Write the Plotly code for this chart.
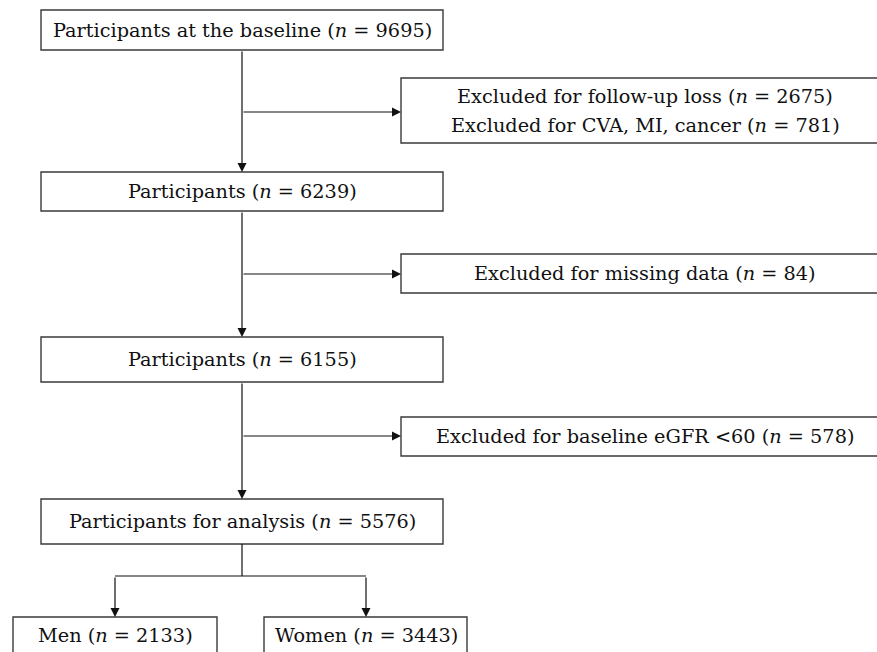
import plotly.graph_objects as go

# ---- data ----
stage_labels = ["Participants at the baseline", "Participants", "Participants", "Participants for analysis"]
stage_n = [9695, 6239, 6155, 5576]
excl_labels = [["Excluded for follow-up loss", "Excluded for CVA, MI, cancer"],
               ["Excluded for missing data"],
               ["Excluded for baseline eGFR <60"]]
excl_n = [[2675, 781], [84], [578]]
group_labels = ["Men", "Women"]
group_n = [2133, 3443]

# ---- layout geometry (page pixels, y downward) ----
W, H = 877, 652
main_x = (41, 443)
main_cx = 242
main_y = [(10, 50), (172, 211), (337, 382), (499, 544)]
excl_x = (401, 900)
excl_y = [(78, 143), (254, 293), (417, 456)]
excl_cx = 645
branch_y = [112, 274, 436]
split_y = 576
group_x = [(13, 217), (264, 467)]
group_cx = [115, 366]
group_y = (617, 690)
group_text_y = 635

FONT = dict(family="DejaVu Serif", size=19.3, color="#111111")
BORDER = dict(color="#3a3a3a", width=1.4)
LINE = dict(color="#111111", width=1.2)


def lab(text, n):
    return f"{text} (<i>n</i> = {n})"


fig = go.Figure()
fig.add_trace(go.Scatter(x=[0, W], y=[0, H], mode="markers", marker=dict(opacity=0),
                         hoverinfo="skip", showlegend=False))

shapes = []
annotations = []


def box(x0, x1, y0, y1):
    shapes.append(dict(type="rect", x0=x0, x1=x1, y0=y0, y1=y1, xref="x", yref="y",
                       line=BORDER, fillcolor="white", layer="above"))


def line(x0, y0, x1, y1):
    shapes.append(dict(type="line", x0=x0, x1=x1, y0=y0, y1=y1, xref="x", yref="y", line=LINE, layer="above"))


def arrow(x0, y0, x1, y1):
    annotations.append(dict(x=x1, y=y1, ax=x0, ay=y0, xref="x", yref="y", axref="x", ayref="y",
                            showarrow=True, arrowhead=2, arrowsize=1.5, arrowwidth=1.2,
                            arrowcolor="#111111", standoff=0, startstandoff=0, text=""))


def text(x, y, s):
    annotations.append(dict(x=x, y=y, xref="x", yref="y", text=s, showarrow=False, font=FONT,
                            xanchor="center", yanchor="middle"))


# main boxes
for (y0, y1), t, n in zip(main_y, stage_labels, stage_n):
    box(main_x[0], main_x[1], y0, y1)
    text(main_cx, (y0 + y1) / 2, lab(t, n))

# vertical arrows between main boxes
for i in range(len(main_y) - 1):
    arrow(main_cx, main_y[i][1], main_cx, main_y[i + 1][0])

# exclusion boxes and branches
for (y0, y1), by, labels, ns in zip(excl_y, branch_y, excl_labels, excl_n):
    box(excl_x[0], excl_x[1], y0, y1)
    arrow(main_cx, by, excl_x[0], by)
    k = len(labels)
    mid = (y0 + y1) / 2
    for j, (t, n) in enumerate(zip(labels, ns)):
        yy = mid + (j - (k - 1) / 2) * 29
        text(excl_cx, yy, lab(t, n))

# split to groups
line(main_cx, main_y[-1][1], main_cx, split_y)
line(group_cx[0], split_y, group_cx[1], split_y)
for (x0, x1), cx, t, n in zip(group_x, group_cx, group_labels, group_n):
    arrow(cx, split_y, cx, group_y[0])
    box(x0, x1, group_y[0], group_y[1])
    text(cx, group_text_y, lab(t, n))

fig.update_layout(
    width=W, height=H,
    margin=dict(l=0, r=0, t=0, b=0),
    paper_bgcolor="white", plot_bgcolor="white",
    xaxis=dict(range=[0, W], visible=False, fixedrange=True),
    yaxis=dict(range=[H, 0], visible=False, fixedrange=True),
    shapes=shapes, annotations=annotations, showlegend=False,
)
fig.write_html("out.html", config={"displayModeBar": False, "staticPlot": True},
               post_script="document.body.style.margin='0';document.body.style.overflow='hidden';")
